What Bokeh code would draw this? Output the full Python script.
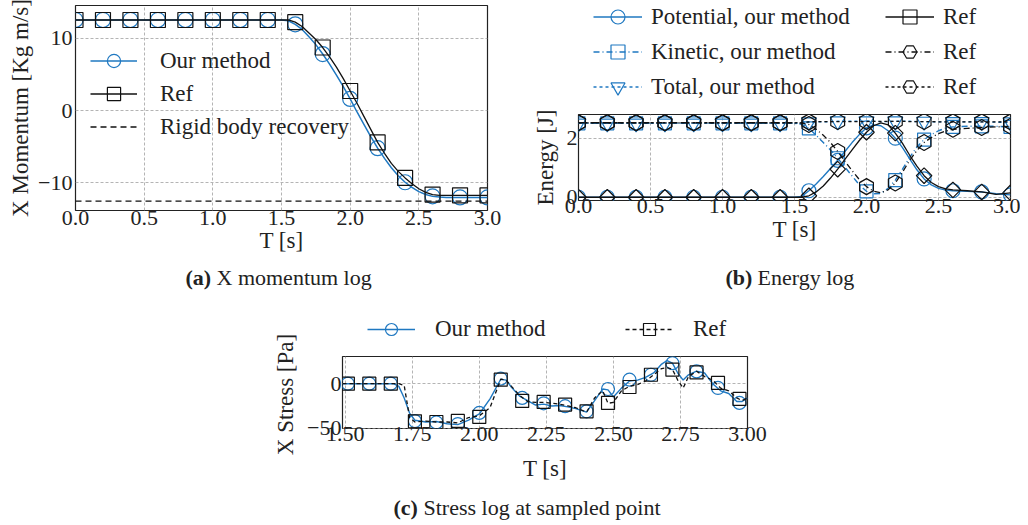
import math
import numpy as np
from bokeh.plotting import figure
from bokeh.models import Range1d, FixedTicker, Legend, LegendItem, Spacer
from bokeh.layouts import column, row
from bokeh.embed import file_html
from bokeh.resources import INLINE
from bokeh.core.properties import value

# ---------------- data: (a) X momentum ----------------
T_A = [0.0, 0.2, 0.4, 0.6, 0.8, 1.0, 1.2, 1.4, 1.5, 1.55, 1.6, 1.65, 1.7, 1.75, 1.8,
       1.85, 1.9, 1.95, 2.0, 2.05, 2.1, 2.15, 2.2, 2.25, 2.3, 2.35, 2.4, 2.45, 2.5,
       2.55, 2.6, 2.65, 2.7, 2.8, 2.9, 3.0]
MOM_OUR = [12.5, 12.5, 12.5, 12.5, 12.5, 12.5, 12.5, 12.5, 12.5, 12.4, 11.9, 11.2, 10.2,
           9.1, 7.8, 6.4, 4.9, 3.3, 1.6, -0.2, -1.9, -3.6, -5.2, -6.6, -7.9, -9.0, -9.9,
           -10.6, -11.2, -11.6, -11.85, -11.95, -12.0, -12.0, -12.0, -12.0]
MOM_REF = [12.5, 12.5, 12.5, 12.5, 12.5, 12.5, 12.5, 12.5, 12.5, 12.5, 12.2, 11.6, 10.7,
           9.8, 8.7, 7.4, 6.0, 4.4, 2.7, 1.0, -0.8, -2.6, -4.4, -5.9, -7.3, -8.4, -9.3,
           -10.1, -10.8, -11.3, -11.6, -11.7, -11.7, -11.7, -11.7, -11.7]
RIGID_T = [0.0, 3.0]
RIGID_V = [-12.5, -12.5]
A_XTICKS = [0.0, 0.5, 1.0, 1.5, 2.0, 2.5, 3.0]
A_XLABELS = ["0.0", "0.5", "1.0", "1.5", "2.0", "2.5", "3.0"]
A_YTICKS = [-10, 0, 10]
A_YLABELS = ["\u221210", "0", "10"]

# ---------------- data: (b) energy ----------------
T_B = [0.0, 0.2, 0.4, 0.6, 0.8, 1.0, 1.2, 1.4, 1.5, 1.55, 1.6, 1.65, 1.7, 1.75, 1.8,
       1.85, 1.9, 1.95, 2.0, 2.05, 2.1, 2.15, 2.2, 2.25, 2.3, 2.35, 2.4, 2.45, 2.5,
       2.55, 2.6, 2.7, 2.8, 2.9, 3.0]
POT_OUR = [0.0, 0.0, 0.0, 0.0, 0.0, 0.0, 0.0, 0.0, 0.0, 0.03, 0.22, 0.45, 0.70, 0.97,
           1.25, 1.55, 1.85, 2.12, 2.35, 2.45, 2.42, 2.25, 2.00, 1.68, 1.30, 0.93, 0.62,
           0.42, 0.30, 0.24, 0.22, 0.20, 0.18, 0.12, 0.08]
KIN_OUR = [2.50, 2.50, 2.50, 2.50, 2.50, 2.50, 2.50, 2.50, 2.50, 2.47, 2.33, 2.10, 1.85,
           1.60, 1.32, 1.02, 0.72, 0.42, 0.20, 0.12, 0.13, 0.30, 0.58, 0.95, 1.35, 1.70,
           1.95, 2.12, 2.25, 2.34, 2.38, 2.40, 2.40, 2.40, 2.38]
TOT_OUR = [2.50, 2.50, 2.50, 2.50, 2.50, 2.50, 2.50, 2.50, 2.50, 2.51, 2.54, 2.55, 2.55,
           2.56, 2.57, 2.57, 2.57, 2.57, 2.57, 2.57, 2.56, 2.56, 2.57, 2.57, 2.57, 2.56,
           2.56, 2.55, 2.55, 2.55, 2.55, 2.55, 2.55, 2.54, 2.54]
POT_REF = [0.0, 0.0, 0.0, 0.0, 0.0, 0.0, 0.0, 0.0, 0.0, 0.0, 0.05, 0.18, 0.38, 0.65,
           0.95, 1.28, 1.60, 1.92, 2.20, 2.42, 2.52, 2.45, 2.17, 1.82, 1.42, 1.05, 0.73,
           0.50, 0.36, 0.28, 0.25, 0.22, 0.18, 0.10, 0.15]
KIN_REF = [2.52, 2.52, 2.52, 2.52, 2.52, 2.52, 2.52, 2.52, 2.52, 2.51, 2.46, 2.30, 2.10,
           1.85, 1.55, 1.22, 0.90, 0.60, 0.36, 0.20, 0.15, 0.25, 0.48, 0.85, 1.25, 1.58,
           1.85, 2.02, 2.15, 2.24, 2.30, 2.33, 2.36, 2.38, 2.40]
TOT_REF = [2.52, 2.52, 2.52, 2.52, 2.52, 2.52, 2.52, 2.52, 2.52, 2.53, 2.55, 2.56, 2.56,
           2.56, 2.56, 2.56, 2.56, 2.56, 2.56, 2.57, 2.57, 2.57, 2.57, 2.57, 2.56, 2.56,
           2.56, 2.56, 2.55, 2.55, 2.55, 2.55, 2.55, 2.55, 2.55]
B_XTICKS = A_XTICKS
B_XLABELS = A_XLABELS
B_YTICKS = [0, 2]
B_YLABELS = ["0", "2"]

# ---------------- data: (c) stress ----------------
T_C = [1.49, 1.68, 1.70, 1.72, 1.74, 1.76, 1.80, 1.84, 1.88, 1.92, 1.96, 2.00, 2.04,
       2.08, 2.10, 2.12, 2.15, 2.18, 2.21, 2.24, 2.27, 2.30, 2.33, 2.36, 2.40, 2.43,
       2.46, 2.48, 2.50, 2.53, 2.56, 2.59, 2.62, 2.65, 2.68, 2.70, 2.72, 2.74, 2.76,
       2.78, 2.81, 2.84, 2.87, 2.90, 2.93, 2.96, 2.98, 3.00]
STR_OUR = [0, 0, -3, -16, -33, -41, -43, -42.5, -45, -46, -41, -34, -17, 5, 4, -4, -14,
           -19, -24, -23, -25, -24.5, -26, -28, -32, -19, -6, -7, -15, -5, 3, 4, 7, 12,
           22, 26, 23, 12, 4, 10, 14, 12, 0, -8, -11, -20, -20, -16]
STR_REF = [0, 0, 0, -2, -38, -43, -42, -43, -43, -44, -38, -36, -27, 5, 4, -3, -13, -20,
           -21, -21, -22, -23, -25, -27, -32, -16, -8, -22, -21, -8, -3, -1, 3, 10, 17,
           18, 16, 4, -5, 8, 14, 8, 4, -5, -8, -16, -19, -16]
C_MT = [1.51, 1.59, 1.67, 1.76, 1.84, 1.92, 2.00, 2.08, 2.16, 2.24, 2.32, 2.40, 2.48,
        2.56, 2.64, 2.72, 2.81, 2.89, 2.97]
C_OUR_M = [0, 0, 0, -42, -43.5, -45.3, -32.8, 5.6, -16, -22, -25.3, -31, -6, 4.5, 10,
           23, 13.8, -4.8, -21.6]
C_REF_M = [0, 0, 0, -42.2, -43, -41.8, -37.3, 4.5, -19.4, -20.5, -23.5, -31, -21.6, -3.7,
           10, 15.7, 12.6, 0.8, -17.1]
C_XTICKS = [1.5, 1.75, 2.0, 2.25, 2.5, 2.75, 3.0]
C_XLABELS = ["1.50", "1.75", "2.00", "2.25", "2.50", "2.75", "3.00"]
C_YTICKS = [-50, 0]
C_YLABELS = ["\u221250", "0"]

# ---------------- style ----------------
BLUE = "#1f78c1"
BLACK = "#111111"
INK = "#222222"
FONT = "Liberation Serif"
DASHDOT = "6 3 1 3"
DOTTED = "3 3"
NAN = float("nan")


def every02(t, *vals):
    idx = [i for i, x in enumerate(t) if abs(x * 5 - round(x * 5)) < 1e-9]
    out = [[t[i] for i in idx]]
    for v in vals:
        out.append([v[i] for i in idx])
    return out


def make_fig(w, h, xr, yr, mb):
    p = figure(width=w, height=h, x_range=Range1d(*xr), y_range=Range1d(*yr),
               output_backend="svg", toolbar_location=None,
               min_border_left=mb[0], min_border_right=mb[1],
               min_border_top=mb[2], min_border_bottom=mb[3])
    p.frame_align = False
    p.background_fill_color = "white"
    p.border_fill_color = "white"
    p.outline_line_color = INK
    p.outline_line_width = 1.2
    p.outline_line_alpha = 1.0
    return p


def blank_fig(w, h, xr=(0, 1), yr=(0, 1)):
    p = figure(width=w, height=h, x_range=Range1d(*xr), y_range=Range1d(*yr),
               output_backend="svg", toolbar_location=None, min_border=0)
    p.frame_align = False
    p.axis.visible = False
    p.grid.visible = False
    p.outline_line_color = None
    p.background_fill_color = "white"
    p.border_fill_color = "white"
    return p


def style_axes(p, xt, xl, yt, yl, xlab, ylab, x_std=0, y_std=3, xlab_std=0, ylab_std=2):
    p.xaxis.ticker = FixedTicker(ticks=xt)
    p.yaxis.ticker = FixedTicker(ticks=yt)
    p.xaxis.major_label_overrides = {k: v for k, v in zip(xt, xl)}
    p.yaxis.major_label_overrides = {k: v for k, v in zip(yt, yl)}
    p.xaxis.axis_label = xlab
    if ylab:
        p.yaxis.axis_label = ylab
    p.xaxis.major_label_standoff = x_std
    p.yaxis.major_label_standoff = y_std
    p.xaxis.axis_label_standoff = xlab_std
    p.yaxis.axis_label_standoff = ylab_std
    for ax in p.axis:
        ax.axis_line_color = None
        ax.major_tick_line_color = None
        ax.minor_tick_line_color = None
        ax.major_tick_out = 0
        ax.major_tick_in = 0
        ax.major_label_text_font = FONT
        ax.major_label_text_font_size = "22px"
        ax.major_label_text_color = INK
        ax.axis_label_text_font = FONT
        ax.axis_label_text_font_size = "23px"
        ax.axis_label_text_font_style = "normal"
        ax.axis_label_text_color = INK
    for g in p.grid:
        g.grid_line_color = "#b4b4b4"
        g.grid_line_dash = "3 2"
        g.grid_line_width = 1


def make_legend(items, loc, **kw):
    return Legend(items=items, location=loc, padding=0, margin=0,
                  label_text_font=FONT, label_text_font_size="23px",
                  label_text_color=INK, background_fill_alpha=0,
                  border_line_color=None, **kw)


def add_series(p, t, v, mt, mv, color, lw, dash, marker, size, angle=0.0):
    ln = p.line(t, v, line_color=color, line_width=lw, line_dash=dash)
    sc = p.scatter(mt, mv, marker=marker, size=size, angle=angle, fill_color=None,
                   line_color=color, line_width=1.2)
    return ln, sc


def legend_only(p, color, lw, dash, marker, size, angle=0.0):
    # a single NaN point: nothing is drawn in the plot, only the legend sample
    ln = p.line(x=[NAN], y=[NAN], line_color=color, line_width=lw, line_dash=dash)
    sc = p.scatter(x=[NAN], y=[NAN], marker=marker, size=size, angle=angle,
                   fill_color=None, line_color=color, line_width=1.2)
    return [ln, sc]


# ---------------- (a) ----------------
pa = make_fig(513, 258, (0, 3), (-13.8, 14.5), (75, 26, 5, 48))
style_axes(pa, A_XTICKS, A_XLABELS, A_YTICKS, A_YLABELS, "T [s]", "X Momentum [Kg m/s]",
           x_std=0, y_std=3, xlab_std=0, ylab_std=2)
mt, m_our, m_ref = every02(T_A, MOM_OUR, MOM_REF)
la1, sa1 = add_series(pa, T_A, MOM_OUR, mt, m_our, BLUE, 1.5, "solid", "circle", 15)
la2, sa2 = add_series(pa, T_A, MOM_REF, mt, m_ref, BLACK, 1.3, "solid", "square", 15)
la3 = pa.line(RIGID_T, RIGID_V, line_color=BLACK, line_width=1.3, line_dash="6 4")
pa.add_layout(make_legend([
    LegendItem(label="Our method", renderers=[la1, sa1]),
    LegendItem(label="Ref", renderers=[la2, sa2]),
    LegendItem(label="Rigid body recovery", renderers=[la3]),
], (15, 67), orientation="vertical", spacing=0, glyph_width=47, glyph_height=33,
    label_height=33, label_standoff=23))

# ---------------- (b) ----------------
pb = make_fig(507, 154, (0, 3), (-0.11, 2.80), (65, 10, 10, 58))
style_axes(pb, B_XTICKS, B_XLABELS, B_YTICKS, B_YLABELS, "T [s]", "Energy [J]",
           x_std=-2, y_std=1, xlab_std=1, ylab_std=6)
bt, p_our, k_our, t_our, p_ref, k_ref, t_ref = every02(
    T_B, POT_OUR, KIN_OUR, TOT_OUR, POT_REF, KIN_REF, TOT_REF)
B_STYLES = [
    ("Potential, our method", POT_OUR, p_our, BLUE, 1.4, "solid", "circle", 14, 0.0),
    ("Kinetic, our method", KIN_OUR, k_our, BLUE, 1.4, DASHDOT, "square", 13, 0.0),
    ("Total, our method", TOT_OUR, t_our, BLUE, 1.4, DOTTED, "inverted_triangle", 15, 0.0),
    ("Ref", POT_REF, p_ref, BLACK, 1.3, "solid", "square", 11, math.pi / 4),
    ("Ref", KIN_REF, k_ref, BLACK, 1.3, DASHDOT, "hex", 16, math.pi / 6),
    ("Ref", TOT_REF, t_ref, BLACK, 1.3, DOTTED, "hex", 16, math.pi / 6),
]
leg_b_fig = blank_fig(507, 104)
b_items = []
for lab, v, mv, col, lw, dash, mk, sz, ang in B_STYLES:
    add_series(pb, T_B, v, bt, mv, col, lw, dash, mk, sz, ang)
    b_items.append(LegendItem(label=lab, renderers=legend_only(leg_b_fig, col, lw, dash, mk, sz, ang)))
leg_b_fig.add_layout(make_legend(b_items, (80, 0), orientation="vertical", nrows=3,
                                 spacing=0, glyph_width=49, glyph_height=35,
                                 label_height=35, label_standoff=9, label_width=234))

# ---------------- (c) ----------------
pc = make_fig(500, 145, (1.49, 3.0), (-50.3, 30.5), (42, 53, 11, 62))
style_axes(pc, C_XTICKS, C_XLABELS, C_YTICKS, C_YLABELS, "T [s]", None,
           x_std=-2, y_std=1, xlab_std=12, ylab_std=9)
add_series(pc, T_C, STR_OUR, C_MT, C_OUR_M, BLUE, 1.4, "solid", "circle", 13)
add_series(pc, T_C, STR_REF, C_MT, C_REF_M, BLACK, 1.3, "4 3", "square", 13)
leg_c_fig = blank_fig(500, 52)
leg_c_fig.add_layout(make_legend([
    LegendItem(label="Our method", renderers=legend_only(leg_c_fig, BLUE, 1.4, "solid", "circle", 13)),
    LegendItem(label="Ref", renderers=legend_only(leg_c_fig, BLACK, 1.3, "4 3", "square", 13)),
], (67, 1), orientation="horizontal", spacing=0, glyph_width=48, glyph_height=30,
    label_height=30, label_standoff=20, label_width=190))

# y-axis title of (c) drawn in its own strip so the legend above can stay clear of it
ylab_c = blank_fig(30, 197, xr=(0, 30), yr=(0, 197))
ylab_c.text(x=[15], y=[96], text=["X Stress [Pa]"], angle=math.pi / 2,
            text_font=value(FONT), text_font_size="23px", text_align="center",
            text_baseline="middle", text_color=INK)


# ---------------- captions ----------------
def caption_fig(h, entries):
    p = blank_fig(1020, h, xr=(0, 1020), yr=(0, h))
    for (x0, x1, y, bold, rest) in entries:
        p.text(x=[x0], y=[y], text=[bold], text_font=value(FONT), text_font_size="22px",
               text_font_style="bold", text_baseline="middle", text_align="left",
               text_color=INK)
        p.text(x=[x1], y=[y], text=[rest], text_font=value(FONT), text_font_size="22px",
               text_baseline="middle", text_align="left", text_color=INK)
    return p


cap1 = caption_fig(35, [(185, 216, 16, "(a)", "X momentum log"),
                        (725, 757, 16, "(b)", "Energy log")])
cap2 = caption_fig(34, [(393, 423, 17, "(c)", "Stress log at sampled point")])

layout = column(
    row(pa, column(leg_b_fig, pb)),
    cap1,
    row(Spacer(width=270, height=197), ylab_c, column(leg_c_fig, pc)),
    cap2,
)

open("out.html", "w").write(file_html(layout, INLINE))
